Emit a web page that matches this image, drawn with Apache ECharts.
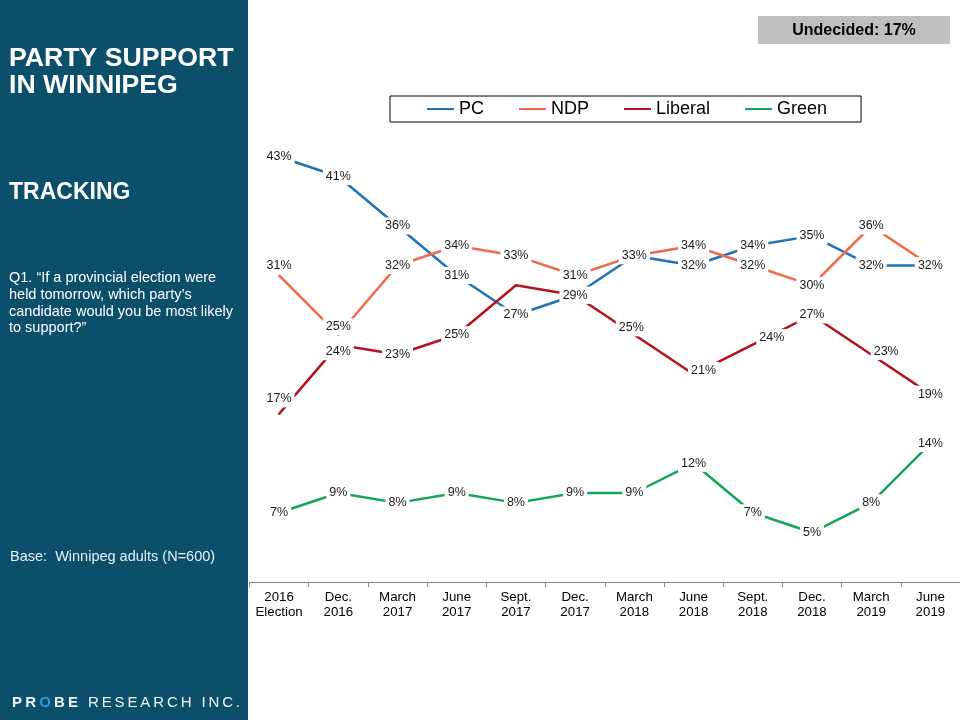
<!DOCTYPE html>
<html><head><meta charset="utf-8">
<script src="https://cdn.jsdelivr.net/npm/echarts@6/dist/echarts.min.js"></script>
<style>html,body{margin:0;padding:0;background:#fff}#c{width:960px;height:720px}</style>
</head><body><div id="c"></div>
<script>
// ---- data ----
const categories = ['2016\nElection','Dec.\n2016','March\n2017','June\n2017','Sept.\n2017','Dec.\n2017','March\n2018','June\n2018','Sept.\n2018','Dec.\n2018','March\n2019','June\n2019'];
const seriesNames = ['PC','NDP','Liberal','Green'];
const pcValues = [43,41,36,31,27,29,33,32,34,35,32,32];
const ndpValues = [31,25,32,34,33,31,33,34,32,30,36,32];
const liberalValues = [17,24,23,25,30,29,25,21,24,27,23,19];
const greenValues = [7,9,8,9,8,9,9,12,7,5,8,14];
const undecidedText = 'Undecided: 17%';

// ---- styles ----
const colors = {PC:'#1f73b7', NDP:'#f0694a', Liberal:'#b4141e', Green:'#16a455'};
const labelOffsets = {
  NDP: {0:[0,-10], 1:[0,-8]},
  Liberal: {0:[0,-15], 1:[0,7], 6:[-3,-7], 7:[10,-4], 8:[19,-7], 10:[15,-3]}
};
const hiddenLabels = {Liberal:[4]};
const FONT = '"Liberation Sans", Arial, sans-serif';

function buildSeries(name, values){
  const color = colors[name];
  return {
    name, type:'line', color,
    data: values.map((v,i)=>{
      const item = {value:v};
      const off = (labelOffsets[name]||{})[i];
      if (off) item.label = {offset:off};
      if ((hiddenLabels[name]||[]).includes(i)) item.label = {show:false};
      return item;
    }),
    lineStyle:{width:2.5, color}, itemStyle:{color},
    symbol:'circle', symbolSize:2, showSymbol:true,
    label:{show:true, position:'inside', formatter:'{c}%', fontSize:12.5, color:'#1a1a1a',
      fontFamily:FONT, backgroundColor:'#fff', padding:[2,3]},
    emphasis:{disabled:true}, animation:false
  };
}

// letter-spaced logo text
const mctx = document.createElement('canvas').getContext('2d');
function spacedText(str, x0, targetWidth, y, weight, size, fillFn){
  const font = weight + ' ' + size + 'px "Liberation Sans"';
  mctx.font = font;
  const widths = [...str].map(c=>mctx.measureText(c).width);
  const natural = widths.reduce((a,b)=>a+b,0);
  const sp = (targetWidth - natural)/(str.length-1);
  let x = x0; const els = [];
  [...str].forEach((c,i)=>{
    els.push({type:'text', x, y, style:{text:c, fill:fillFn(c,i), fontSize:size, fontWeight:weight,
      fontFamily:'Liberation Sans', verticalAlign:'middle'}});
    x += widths[i] + sp;
  });
  return els;
}

const graphics = [
  {type:'rect', shape:{x:0,y:0,width:248,height:720}, style:{fill:'#0b4f6a'}, z:-1},
  {type:'text', x:9, y:45.5, style:{text:'PARTY SUPPORT\nIN WINNIPEG', fill:'#fff', fontSize:26.67, fontWeight:'bold', fontFamily:FONT, lineHeight:26.5, verticalAlign:'top'}},
  {type:'text', x:9, y:181.5, style:{text:'TRACKING', fill:'#fff', fontSize:23, fontWeight:'bold', fontFamily:FONT, lineHeight:23, verticalAlign:'top'}},
  {type:'text', x:9, y:270, style:{text:'Q1. \u201CIf a provincial election were\nheld tomorrow, which party\u2019s\ncandidate would you be most likely\nto support?\u201D', fill:'#fff', fontSize:14.5, fontFamily:FONT, lineHeight:16.7, verticalAlign:'top'}},
  {type:'text', x:10, y:549, style:{text:'Base:  Winnipeg adults (N=600)', fill:'#e6f1f8', fontSize:14.5, fontFamily:FONT, lineHeight:16, verticalAlign:'top'}},
  {type:'rect', shape:{x:758,y:16,width:192,height:28}, style:{fill:'#bfbfbf'}},
  {type:'text', x:854, y:30.5, style:{text:undecidedText, fill:'#000', fontSize:16, fontWeight:'bold', fontFamily:FONT, align:'center', verticalAlign:'middle'}}
].concat(
  spacedText('PROBE', 12, 66, 703, 'bold', 15, (c,i)=> i===2 ? '#2a9be0' : '#eef4f8'),
  spacedText('RESEARCH INC.', 88, 152, 703, 'normal', 15, ()=> '#eef4f8')
);

const option = {
  backgroundColor:'#fff',
  animation:false,
  grid:{left:249.5, top:137, width:715, height:445, containLabel:false},
  legend:{data:seriesNames, left:390, top:96, orient:'horizontal', icon:'rect', itemWidth:27, itemHeight:2,
    itemGap:35, padding:[4,34,4,37], borderColor:'#000', borderWidth:1, backgroundColor:'#fff',
    textStyle:{fontSize:18, color:'#000', fontFamily:FONT}, selectedMode:false},
  xAxis:{type:'category', data:categories, boundaryGap:true,
    axisLine:{lineStyle:{color:'#868686', width:1}},
    axisTick:{show:true, length:5, lineStyle:{color:'#868686'}},
    axisLabel:{color:'#000', fontSize:13.3, lineHeight:15, margin:8, fontFamily:FONT, interval:0},
    splitLine:{show:false}},
  yAxis:{type:'value', min:0, max:45, show:false, splitLine:{show:false}},
  series:[
    buildSeries('PC', pcValues),
    buildSeries('NDP', ndpValues),
    buildSeries('Liberal', liberalValues),
    buildSeries('Green', greenValues)
  ],
  graphic:graphics
};
const chart = echarts.init(document.getElementById('c'), null, {renderer:'canvas'});
chart.setOption(option);
</script></body></html>
